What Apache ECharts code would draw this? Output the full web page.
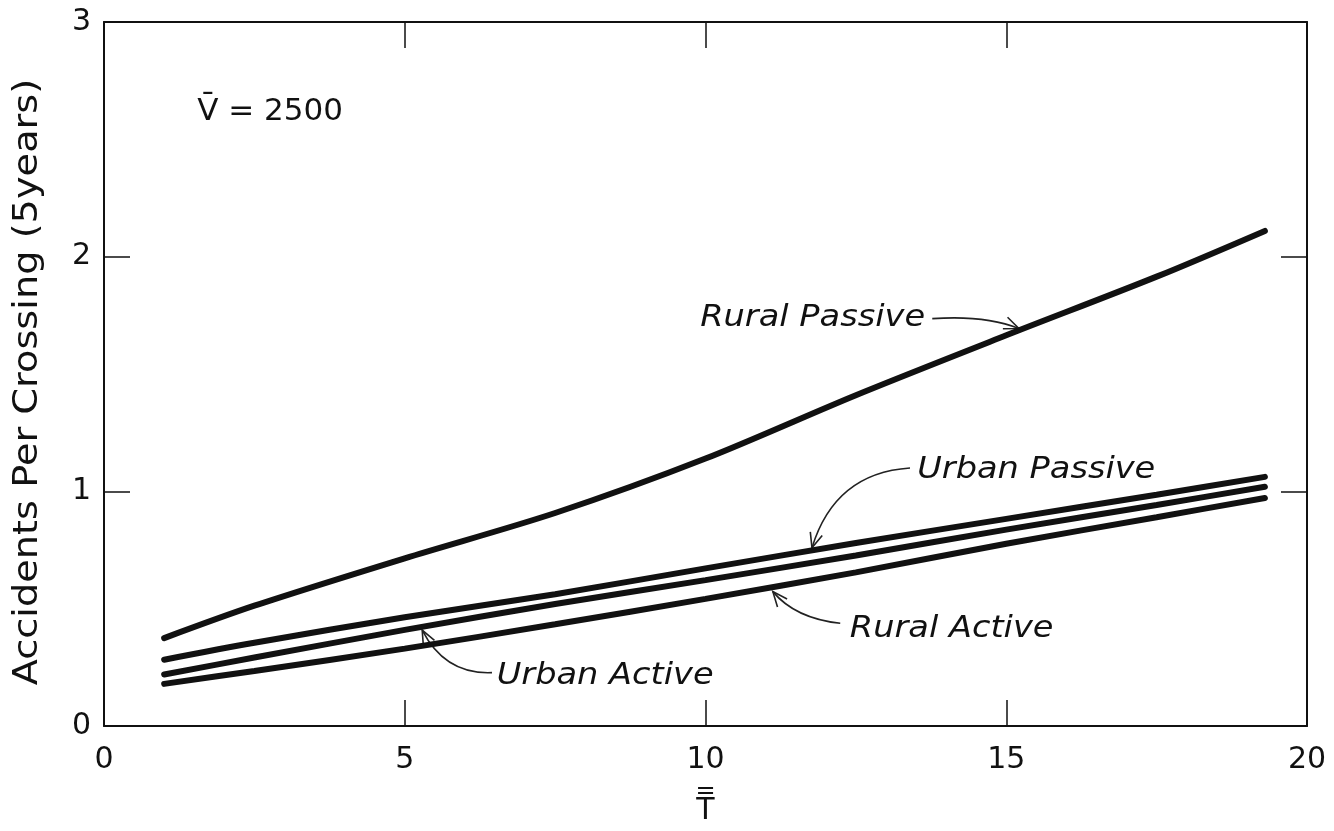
<!DOCTYPE html>
<html>
<head>
<meta charset="utf-8">
<script src="https://cdn.jsdelivr.net/npm/echarts@6.0.0/dist/echarts.min.js"></script>
<style>
html,body{margin:0;padding:0;background:#fff;}
#main{width:1334px;height:831px;}
</style>
</head>
<body>
<div id="main"></div>
<script>
// ---- data ----
const T = [1, 2.5, 5, 7.5, 10, 12.5, 15, 17.5, 19.3];
const ruralPassive = [0.375, 0.513, 0.715, 0.908, 1.14, 1.41, 1.665, 1.915, 2.11];
const urbanPassive = [0.283, 0.355, 0.464, 0.562, 0.672, 0.78, 0.883, 0.986, 1.062];
const urbanActive  = [0.22, 0.292, 0.41, 0.52, 0.622, 0.727, 0.837, 0.942, 1.02];
const ruralActive  = [0.18, 0.235, 0.33, 0.434, 0.542, 0.655, 0.777, 0.89, 0.972];
const seriesNames = ['Rural Passive', 'Urban Passive', 'Urban Active', 'Rural Active'];
const xTicks = [0, 5, 10, 15, 20];
const yTicks = [0, 1, 2, 3];
const yTitle = 'Accidents Per Crossing (5years)';
const noteText = 'V\u0304 = 2500';

// ---- annotation layout (in data coordinates) ----
const annotations = [
  { text: 'Rural Passive', align: 'right', label: [13.65, 1.736], start: [13.77, 1.736], ctrl: [14.65, 1.752], tip: [15.21, 1.694] },
  { text: 'Urban Passive', align: 'left', label: [13.52, 1.091], start: [13.40, 1.100], ctrl: [12.15, 1.079], tip: [11.77, 0.760] },
  { text: 'Urban Active', align: 'left', label: [6.53, 0.211], start: [6.45, 0.228], ctrl: [5.67, 0.219], tip: [5.29, 0.409] },
  { text: 'Rural Active', align: 'left', label: [12.40, 0.413], start: [12.24, 0.438], ctrl: [11.49, 0.459], tip: [11.12, 0.573] }
];
const noteAnchor = [1.55, 2.617];

const FONT = '"DejaVu Sans", "Liberation Sans", sans-serif';
const INK = '#111';

function pairs(xs, ys) { return xs.map((x, i) => [x, ys[i]]); }
const allSeries = [ruralPassive, urbanPassive, urbanActive, ruralActive];

function axisBase() {
  return {
    type: 'value',
    axisLine: { show: true, onZero: false, lineStyle: { color: INK, width: 2 } },
    axisTick: { show: true, inside: true, length: 26, lineStyle: { color: INK, width: 1.5 } },
    splitLine: { show: false },
    minorTick: { show: false }
  };
}

const option = {
  backgroundColor: '#ffffff',
  animation: false,
  grid: { left: 104, right: 27, top: 22, bottom: 97, containLabel: false },
  xAxis: [
    Object.assign(axisBase(), {
      position: 'bottom', min: 0, max: 20, interval: 5,
      axisLabel: { show: true, margin: 19, color: INK, fontSize: 30, fontFamily: FONT,
        formatter: v => xTicks.includes(v) ? String(v) : '' },
      name: '{b|=}\n{t|T}', nameLocation: 'middle', nameGap: 58,
      nameTextStyle: { rich: {
        b: { fontSize: 24, lineHeight: 10, color: INK, fontFamily: FONT, align: 'center' },
        t: { fontSize: 30, lineHeight: 28, color: INK, fontFamily: FONT, align: 'center' }
      } }
    }),
    Object.assign(axisBase(), {
      position: 'top', min: 0, max: 20, interval: 5, axisLabel: { show: false }
    })
  ],
  yAxis: [
    Object.assign(axisBase(), {
      position: 'left', min: 0, max: 3, interval: 1,
      axisLabel: { show: true, margin: 13, color: INK, fontSize: 30, fontFamily: FONT,
        formatter: v => yTicks.includes(v) ? String(v) : '' }
    }),
    Object.assign(axisBase(), {
      position: 'right', min: 0, max: 3, interval: 1, axisLabel: { show: false }
    })
  ],
  series: allSeries.map((ys, i) => ({
    name: seriesNames[i],
    type: 'line',
    xAxisIndex: 0, yAxisIndex: 0,
    data: pairs(T, ys),
    smooth: 0.3,
    showSymbol: false,
    symbol: 'none',
    lineStyle: { color: INK, width: 6, cap: 'round' }
  }))
};

const chart = echarts.init(document.getElementById('main'), null, { renderer: 'canvas' });
chart.setOption(option);

function px(p) { return chart.convertToPixel({ gridIndex: 0 }, p); }

const graphics = [];
annotations.forEach(a => {
  const l = px(a.label), s = px(a.start), c = px(a.ctrl), t = px(a.tip);
  graphics.push({
    type: 'text', x: l[0], y: l[1], scaleX: 1.12, silent: true,
    style: { text: a.text, fill: INK, fontSize: 30, fontStyle: 'italic', fontFamily: FONT,
      align: a.align, textAlign: a.align, verticalAlign: 'middle', textVerticalAlign: 'middle' }
  });
  graphics.push({
    type: 'bezierCurve', silent: true,
    shape: { x1: s[0], y1: s[1], x2: t[0], y2: t[1], cpx1: c[0], cpy1: c[1] },
    style: { stroke: '#222', lineWidth: 1.6, fill: null }
  });
  const dx = t[0] - c[0], dy = t[1] - c[1];
  const ang = Math.atan2(dy, dx);
  const L = 16, spread = 0.4;
  const p1 = [t[0] - L * Math.cos(ang - spread), t[1] - L * Math.sin(ang - spread)];
  const p2 = [t[0] - L * Math.cos(ang + spread), t[1] - L * Math.sin(ang + spread)];
  graphics.push({
    type: 'polyline', silent: true,
    shape: { points: [p1, t, p2] },
    style: { stroke: '#222', lineWidth: 1.6, fill: null }
  });
});
const n = px(noteAnchor);
graphics.push({
  type: 'text', x: n[0], y: n[1], silent: true,
  style: { text: noteText, fill: INK, fontSize: 31, fontFamily: FONT,
    align: 'left', textAlign: 'left', verticalAlign: 'middle', textVerticalAlign: 'middle' }
});
// y-axis title, centred on the plot's vertical middle
const yMid = px([0, 1.5])[1];
graphics.push({
  type: 'text', x: 28, y: yMid + 8, rotation: Math.PI / 2, scaleX: 1.16, silent: true,
  style: { text: yTitle, fill: INK, fontSize: 33, fontFamily: FONT,
    align: 'center', textAlign: 'center', verticalAlign: 'middle', textVerticalAlign: 'middle' }
});
chart.setOption({ graphic: graphics });
</script>
</body>
</html>
